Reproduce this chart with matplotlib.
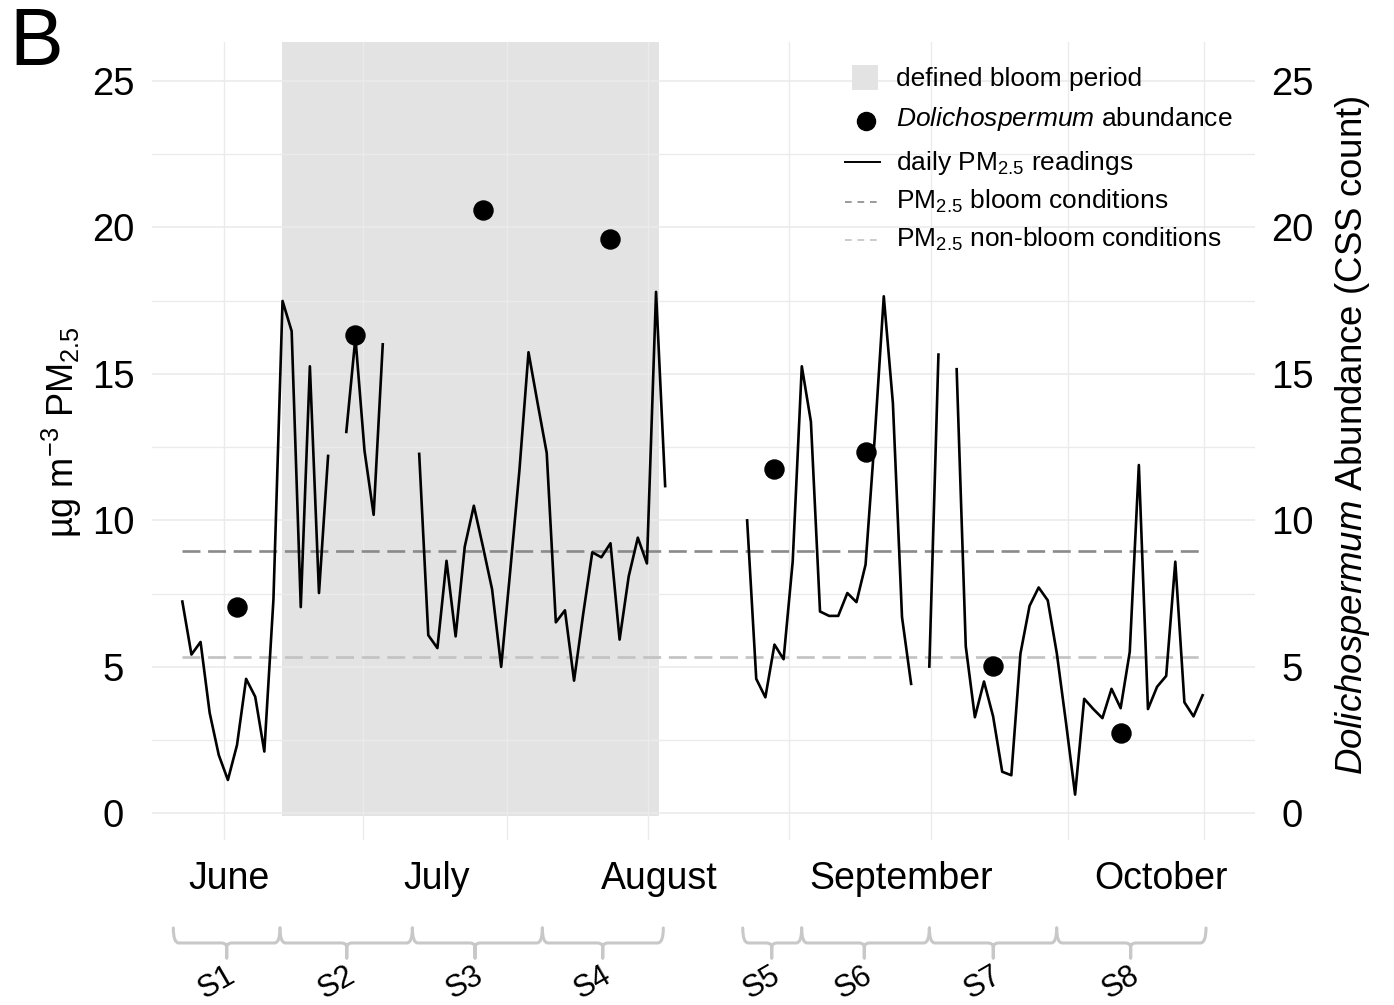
import numpy as np
import matplotlib
matplotlib.use("Agg")
import matplotlib.pyplot as plt
from matplotlib.path import Path
from matplotlib.patches import PathPatch, Rectangle
from matplotlib.lines import Line2D
from matplotlib.transforms import blended_transform_factory

plt.rcParams['font.family'] = ['Liberation Sans', 'DejaVu Sans']
plt.rcParams['mathtext.fontset'] = 'custom'
plt.rcParams['mathtext.rm'] = 'Liberation Sans'
plt.rcParams['mathtext.it'] = 'Liberation Sans:italic'

# daily PM2.5 (day index 0..112), nan = no reading
pm25 = [7.23, 5.42, 5.85, 3.43, 1.99, 1.14, 2.33, 4.59, 3.98, 2.11,
        7.3, 17.49, 16.46, 7.04, 15.26, 7.52, 12.2, np.nan, 13.02, 16.24,
        12.37, 10.19, 16.01, np.nan, np.nan, np.nan, 12.27, 6.08, 5.64, 8.62,
        6.04, 9.10, 10.5, 9.1, 7.65, 5.0, 8.3, 11.7, 15.74, 14.0,
        12.3, 6.52, 6.93, 4.53, 6.8, 8.91, 8.74, 9.22, 5.93, 8.09,
        9.41, 8.53, 17.80, 11.17, np.nan, np.nan, np.nan, np.nan, np.nan, np.nan,
        np.nan, np.nan, 10.0, 4.59, 3.96, 5.76, 5.26, 8.59, 15.26, 13.37,
        6.89, 6.74, 6.74, 7.52, 7.21, 8.49, 12.8, 17.65, 14.0, 6.7,
        4.42, np.nan, 5.01, 15.66, np.nan, 15.16, 5.70, 3.28, 4.50, 3.31,
        1.42, 1.30, 5.45, 7.08, 7.71, 7.27, 5.45, 3.1, 0.64, 3.91,
        3.56, 3.25, 4.25, 3.59, 5.51, 11.89, 3.56, 4.32, 4.69, 8.59,
        3.79, 3.31, 4.03]
days = np.arange(len(pm25))

# Dolichospermum abundance at sampling days
sample_days = [6, 19, 33, 47, 65, 75, 89, 103]
abundance = [7.06, 16.33, 20.6, 19.6, 11.74, 12.35, 5.04, 2.74]

bloom_level = 8.97
nonbloom_level = 5.35
bloom_start, bloom_end = 10.9, 52.3

month_pos = [5.1, 27.9, 52.4, 78.9, 107.45]
month_labels = ['June', 'July', 'August', 'September', 'October']
vgrid = [4.54, 19.82, 35.6, 51.1, 66.55, 82.17, 97.17, 112.2]

# sampling periods: start, tip, end (day index)
seg_names = ['S1', 'S2', 'S3', 'S4', 'S5', 'S6', 'S7', 'S8']
seg_start = [-0.99, 10.72, 25.25, 39.52, 61.52, 67.99, 82.0, 95.98]
seg_tip = [4.87, 18.05, 32.13, 46.15, 64.7, 74.86, 89.02, 104.1]
seg_end = [10.72, 25.25, 39.52, 52.8, 67.99, 82.0, 95.98, 112.37]

fig = plt.figure(figsize=(13.94, 10.05), dpi=100)
ax = fig.add_axes([0.10904, 0.16418, 0.79125, 0.79433])
ax.set_xlim(-3.33, 117.75)
ax.set_ylim(-0.91, 26.34)

for s in ax.spines.values():
    s.set_visible(False)

ax.add_patch(Rectangle((bloom_start, -0.08), bloom_end - bloom_start, 30,
                       facecolor='#e3e3e3', edgecolor='none', zorder=0.2))

ax.set_yticks([0, 5, 10, 15, 20, 25])
ax.set_yticks([2.5, 7.5, 12.5, 17.5, 22.5], minor=True)
ax.set_xticks(month_pos, month_labels)
ax.set_xticks(vgrid, minor=True)
ax.grid(True, which='major', axis='y', color='#ebebeb', lw=1.2, zorder=0.5)
ax.grid(True, which='minor', axis='both', color='#ebebeb', lw=1.0, zorder=0.5)
ax.set_axisbelow(True)
ax.tick_params(which='both', length=0)
ax.tick_params(axis='y', labelsize=27.5, pad=28)
ax.tick_params(axis='x', labelsize=27, pad=15)
for lbl in ax.get_yticklabels():
    lbl.set_horizontalalignment('center')

ax.plot(days, pm25, color='black', lw=1.9, zorder=3)
ax.plot([days[0], days[-1]], [bloom_level, bloom_level], color='#8a8a8a',
        lw=1.9, dashes=(6.8, 2.9), zorder=2.5)
ax.plot([days[0], days[-1]], [nonbloom_level, nonbloom_level], color='#c2c2c2',
        lw=1.9, dashes=(6.8, 2.9), zorder=2.5)

ax2 = ax.twinx()
ax2.set_ylim(ax.get_ylim())
ax2.set_yticks([0, 5, 10, 15, 20, 25])
ax2.tick_params(length=0, labelsize=27.5, pad=27)
for lbl in ax2.get_yticklabels():
    lbl.set_horizontalalignment('center')
for s in ax2.spines.values():
    s.set_visible(False)
ax2.plot(sample_days, abundance, 'o', color='black', ms=13.7, zorder=4)

# legend drawn by hand
ta = ax.transAxes
ax.add_patch(Rectangle((0.6346, 0.9395), 0.0236, 0.0313, transform=ta,
                       facecolor='#e3e3e3', edgecolor='none', clip_on=False))
ax.add_line(Line2D([0.6473], [0.9007], marker='o', ms=13, color='black',
                   transform=ta, clip_on=False))
ax.add_line(Line2D([0.6283, 0.66], [0.8493, 0.8493], color='black', lw=1.4,
                   transform=ta, clip_on=False))
ax.add_line(Line2D([0.6283, 0.66], [0.7992, 0.7992], color='#8a8a8a', lw=1.2,
                   dashes=(4, 3.5), transform=ta, clip_on=False))
ax.add_line(Line2D([0.6283, 0.66], [0.7516, 0.7516], color='#c2c2c2', lw=1.2,
                   dashes=(4, 3.5), transform=ta, clip_on=False))
leg_text = ['defined bloom period',
            r'$\mathit{Dolichospermum}$ abundance',
            r'daily PM$_{2.5}$ readings',
            r'PM$_{2.5}$ bloom conditions',
            r'PM$_{2.5}$ non-bloom conditions']
leg_base = [0.9445, 0.8944, 0.8393, 0.7905, 0.7429]
for t, yb in zip(leg_text, leg_base):
    ax.text(0.6745, yb, t, transform=ta, fontsize=19, va='baseline', ha='left')

# braces for sampling periods
bt = blended_transform_factory(ax.transData, ax.transAxes)
top, arm, tip = -0.1102, -0.129, -0.1478
r = 0.6
for name, x0, xt, x1 in zip(seg_names, seg_start, seg_tip, seg_end):
    verts = [(x0, top), (x0, arm), (x0 + r, arm),
             (xt - r, arm), (xt, arm), (xt, arm - 0.006),
             (xt, tip), (xt, arm - 0.006),
             (xt, arm), (xt + r, arm),
             (x1 - r, arm), (x1, arm), (x1, top)]
    codes = [Path.MOVETO, Path.CURVE3, Path.CURVE3,
             Path.LINETO, Path.CURVE3, Path.CURVE3,
             Path.LINETO, Path.LINETO,
             Path.CURVE3, Path.CURVE3,
             Path.LINETO, Path.CURVE3, Path.CURVE3]
    ax.add_patch(PathPatch(Path(verts, codes), transform=bt, fill=False,
                           edgecolor='#c8c8c8', lw=2.2, capstyle='round',
                           joinstyle='round', clip_on=False))
    ax.text(xt - 1.1, -0.179, name, transform=bt, rotation=30, fontsize=22,
            ha='center', va='center', rotation_mode='anchor')

fig.text(62 / 1394, 1 - 432 / 1005, r'µg m$^{-3}$ PM$_{2.5}$', rotation=90,
         fontsize=26, ha='center', va='center')
fig.text(1352 / 1394, 1 - 435 / 1005,
         r'$\mathit{Dolichospermum}$ Abundance (CSS count)', rotation=90,
         fontsize=26.4, ha='center', va='center')
fig.text(9 / 1394, 1 - 65 / 1005, 'B', fontsize=58, ha='left', va='baseline')

fig.savefig('out.png', dpi=100)
